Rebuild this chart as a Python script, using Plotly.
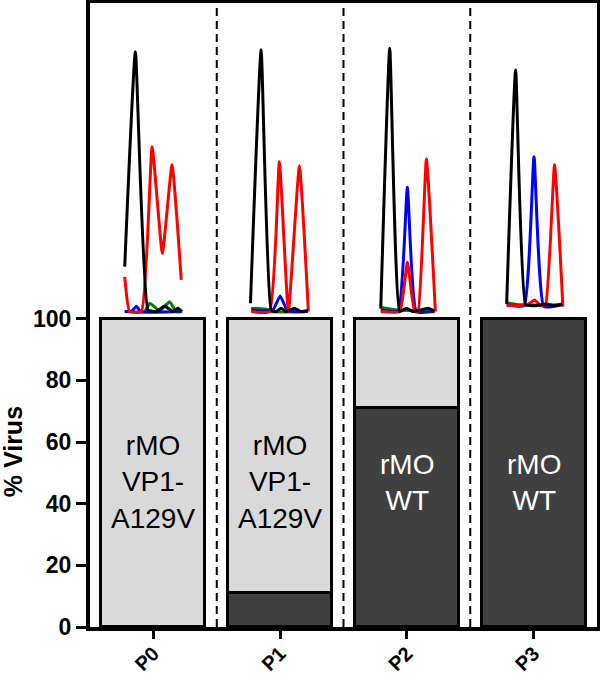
import plotly.graph_objects as go

# ---- data ----
categories = ["P0", "P1", "P2", "P3"]
wt_pct = [0, 11, 71, 100]          # rMO WT (dark)
mut_pct = [100, 89, 29, 0]         # rMO VP1-A129V (light)
bar_labels = ["rMO<br>VP1-<br>A129V", "rMO<br>VP1-<br>A129V", "rMO<br>WT", "rMO<br>WT"]
label_colors = ["black", "black", "white", "white"]
y_ticks = [0, 20, 40, 60, 80, 100]

# chromatogram traces: (offset from bar centre, signal height on % axis)
p0_black = [(-0.226, 116.9), (-0.142, 186.6), (-0.042, 102.8), (0.024, 102.3), (0.089, 104.1),
            (0.155, 102.3), (0.194, 103.4), (0.226, 102.3)]
p0_red = [(-0.226, 113.6), (-0.187, 102.3), (-0.094, 102.3), (-0.010, 155.8), (0.071, 121.2),
          (0.147, 149.9), (0.220, 112.6)]
p0_blue = [(-0.226, 102.3), (-0.17, 102.5), (-0.134, 104.0), (-0.10, 102.3), (0.226, 102.3)]
p0_green = [(-0.226, 102.3), (-0.07, 102.3), (-0.029, 105.0), (0.05, 102.5), (0.128, 105.5),
            (0.18, 102.3), (0.226, 102.3)]

p1_black = [(-0.234, 105.0), (-0.150, 187.2), (-0.071, 102.8), (-0.031, 102.3), (0.008, 103.4),
            (0.047, 102.3), (0.113, 103.4), (0.165, 102.3), (0.218, 102.8)]
p1_red = [(-0.228, 102.3), (-0.084, 102.3), (-0.006, 150.9), (0.065, 102.3), (0.152, 149.6),
          (0.223, 102.3)]
p1_blue = [(-0.228, 102.8), (-0.058, 102.8), (0.0, 107.4), (0.06, 102.5), (0.218, 102.3)]
p1_green = [(-0.228, 103.4), (-0.10, 103.0), (-0.07, 102.3), (0.218, 102.3)]

p2_black = [(-0.206, 103.3), (-0.135, 187.7), (-0.057, 102.3), (-0.004, 103.4), (0.049, 102.3),
            (0.167, 103.4), (0.219, 102.5)]
p2_red = [(-0.206, 102.3), (-0.057, 102.3), (0.004, 118.3), (0.061, 102.3), (0.088, 102.3),
          (0.154, 151.8), (0.225, 102.3)]
p2_blue = [(-0.206, 102.8), (-0.069, 102.5), (0.004, 142.6), (0.075, 102.3), (0.219, 102.3)]
p2_green = [(-0.206, 103.6), (-0.07, 102.8), (0.219, 102.5)]

p3_black = [(-0.213, 104.8), (-0.142, 180.7), (-0.063, 104.5), (0.003, 104.2), (0.108, 104.8),
            (0.16, 104.2), (0.226, 104.8)]
p3_red = [(-0.213, 104.2), (-0.05, 104.5), (0.008, 106.1), (0.055, 104.2), (0.094, 104.5),
          (0.165, 149.9), (0.231, 103.9)]
p3_blue = [(-0.213, 104.5), (-0.076, 104.2), (0.003, 152.5), (0.081, 103.9), (0.226, 104.5)]
p3_green = [(-0.213, 105.2), (-0.1, 104.5), (0.226, 104.5)]

chromatograms = [
    (p0_green, p0_blue, p0_red, p0_black),
    (p1_green, p1_blue, p1_red, p1_black),
    (p2_green, p2_blue, p2_red, p2_black),
    (p3_green, p3_blue, p3_red, p3_black),
]
trace_colors = ["#008000", "#0000ff", "#ff0000", "#000000"]

# ---- figure ----
FONT = "Liberation Sans, Arial, sans-serif"
xpos = list(range(len(categories)))

fig = go.Figure()
fig.add_trace(go.Bar(x=xpos, y=wt_pct, width=0.82, marker=dict(color="#404040", line=dict(color="black", width=3)),
                     showlegend=False, hoverinfo="skip"))
fig.add_trace(go.Bar(x=xpos, y=mut_pct, width=0.82, marker=dict(color="#d9d9d9", line=dict(color="black", width=3)),
                     showlegend=False, hoverinfo="skip"))

for i, group in enumerate(chromatograms):
    for pts, col in zip(group, trace_colors):
        fig.add_trace(go.Scatter(
            x=[i + p[0] for p in pts], y=[p[1] for p in pts], mode="lines",
            line=dict(color=col, width=3, shape="spline", smoothing=0.4),
            showlegend=False, hoverinfo="skip"))

# dashed separators
for i in range(len(categories) - 1):
    fig.add_shape(type="line", x0=i + 0.5, x1=i + 0.5, y0=0, y1=1, xref="x", yref="paper",
                  line=dict(color="black", width=2, dash="8px,5px"), layer="below")

for i, (txt, col) in enumerate(zip(bar_labels, label_colors)):
    fig.add_annotation(x=i, y=47, text=txt, showarrow=False, xref="x", yref="y",
                       font=dict(family=FONT, size=28, color=col))

fig.add_annotation(x=-0.152, y=57, xref="paper", yref="y", text="<b>% Virus</b>", textangle=-90,
                   xanchor="center", yanchor="middle",
                   showarrow=False, font=dict(family=FONT, size=25, color="black"))

fig.update_layout(
    width=600, height=677,
    margin=dict(l=90, r=3, t=3, b=50),
    plot_bgcolor="white", paper_bgcolor="white",
    barmode="stack", bargap=0,
    font=dict(family=FONT, color="black"),
)
fig.update_xaxes(range=[-0.5, 3.5], tickvals=xpos, ticktext=["<b>%s</b>" % c for c in categories],
                 tickangle=-45, tickfont=dict(family=FONT, size=20, color="black"),
                 showline=True, linecolor="black", linewidth=4, mirror=True,
                 ticks="outside", ticklen=8, tickwidth=3, tickcolor="black",
                 ticklabelstandoff=-5,
                 showgrid=False, zeroline=False, fixedrange=True, automargin=False)
fig.update_yaxes(range=[0, 202.4], tickvals=y_ticks, ticktext=["<b>%d</b>" % v for v in y_ticks],
                 tickfont=dict(family=FONT, size=23, color="black"),
                 showline=True, linecolor="black", linewidth=4, mirror=True,
                 ticks="outside", ticklen=10, tickwidth=3, tickcolor="black",
                 showgrid=False, zeroline=False, fixedrange=True, automargin=False)

fig.write_html("out.html", config={"displayModeBar": False},
               post_script="document.body.style.margin='0';document.body.style.overflow='hidden';")
